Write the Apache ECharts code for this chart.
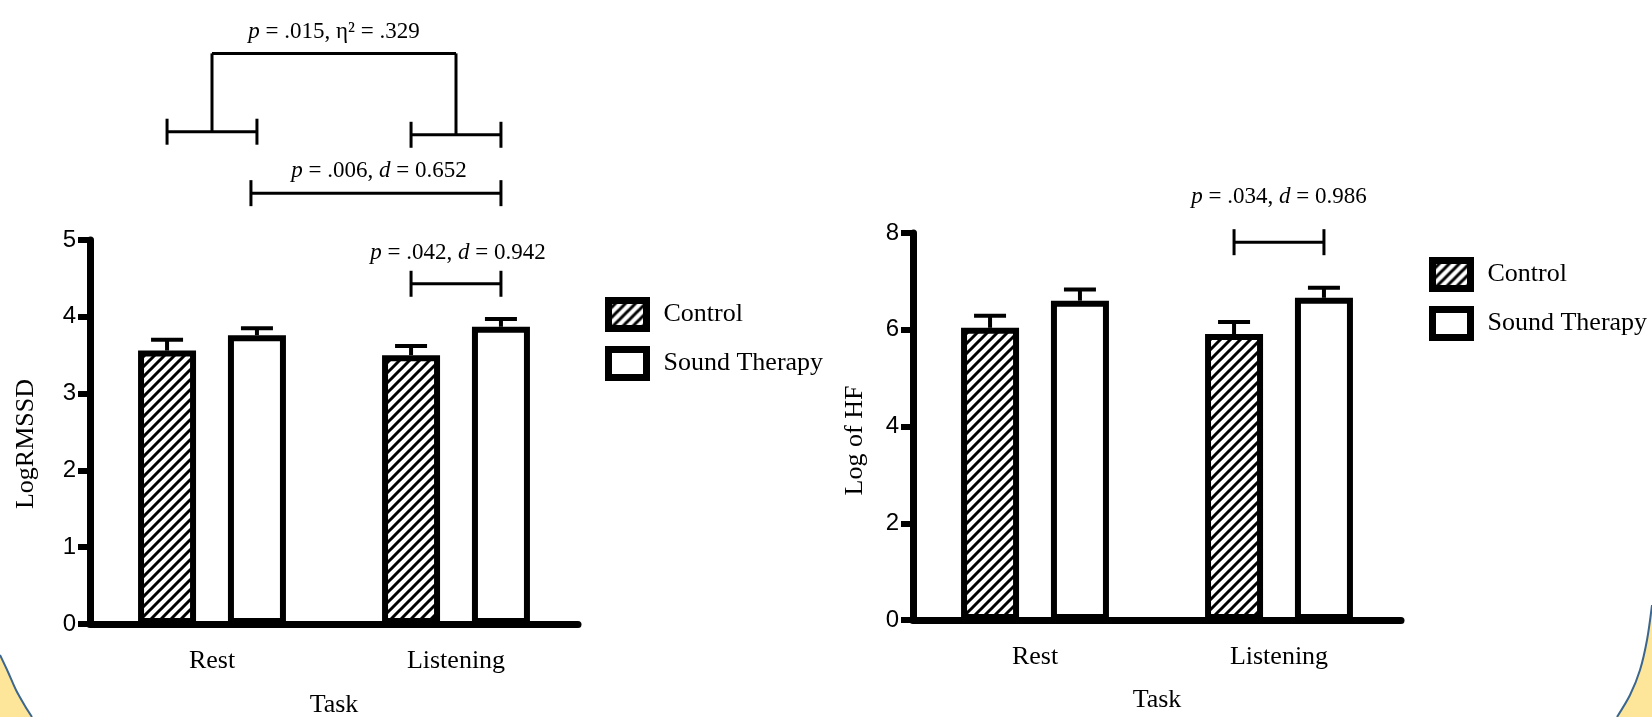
<!DOCTYPE html>
<html>
<head>
<meta charset="utf-8">
<script src="https://cdn.jsdelivr.net/npm/echarts@6/dist/echarts.min.js"></script>
<style>
  html, body { margin: 0; padding: 0; background: #fff; }
  #app { width: 1652px; height: 717px; }
</style>
</head>
<body>
<div id="app"></div>
<script>
// values
const categories = ['Rest', 'Listening'];
const groups = ['Control', 'Sound Therapy'];

const rmssdControl = [3.56, 3.50];
const rmssdControlSE = [0.14, 0.12];
const rmssdSound = [3.76, 3.87];
const rmssdSoundSE = [0.09, 0.10];

const hfControl = [6.04, 5.91];
const hfControlSE = [0.25, 0.25];
const hfSound = [6.60, 6.66];
const hfSoundSE = [0.23, 0.21];

const rmssdTicks = { min: 0, max: 5, interval: 1 };
const hfTicks = { min: 0, max: 8, interval: 2 };

const statLabels = [
  'p = .042, d = 0.942',
  'p = .006, d = 0.652',
  'p = .015, η² = .329',
  'p = .034, d = 0.986'
];

const serif = 'Liberation Serif';
const barW = 58;
const slotSpacing = barW * 1.55;

// diagonal hatch used for Control
function hatch() {
  const c = document.createElement('canvas');
  c.width = c.height = 10;
  const g = c.getContext('2d');
  g.fillStyle = '#fff';
  g.fillRect(0, 0, 10, 10);
  g.strokeStyle = '#000';
  g.lineWidth = 3;
  g.beginPath();
  g.moveTo(-2, 12); g.lineTo(12, -2);
  g.moveTo(-2, 2); g.lineTo(2, -2);
  g.moveTo(8, 12); g.lineTo(12, 8);
  g.stroke();
  return { image: c, repeat: 'repeat' };
}
const hatchFill = hatch();

function richify(s) {
  return s.replace(/\b([pd])\b/g, '{i|$1}');
}

function errData(ctrl, ctrlSE, snd, sndSE) {
  const out = [];
  for (let i = 0; i < categories.length; i++) {
    out.push([i, 0, ctrl[i], ctrlSE[i]]);
    out.push([i, 1, snd[i], sndSE[i]]);
  }
  return out;
}

function errorRender(params, api) {
  const base = api.coord([api.value(0), api.value(2)]);
  const top = api.coord([api.value(0), api.value(2) + api.value(3)]);
  const x = base[0] + (api.value(1) - 0.5) * slotSpacing;
  const st = { stroke: '#000', lineWidth: 4 };
  return {
    type: 'group',
    children: [
      { type: 'line', shape: { x1: x, y1: base[1], x2: x, y2: top[1] }, style: st },
      { type: 'line', shape: { x1: x - 16, y1: top[1], x2: x + 16, y2: top[1] }, style: st }
    ]
  };
}

function line(x1, y1, x2, y2) {
  return { type: 'line', shape: { x1, y1, x2, y2 }, style: { stroke: '#000', lineWidth: 3 } };
}
function bracket(xa, xb, y) {
  return [line(xa, y, xb, y), line(xa, y - 13, xa, y + 13), line(xb, y - 13, xb, y + 13)];
}
function label(txt, x, y) {
  return {
    type: 'text',
    style: {
      x, y, text: richify(txt), align: 'center', verticalAlign: 'middle',
      fontSize: 23, fontFamily: serif, fill: '#000',
      rich: { i: { fontStyle: 'italic', fontSize: 23, fontFamily: serif } }
    }
  };
}

function leftNotes(params, api) {
  const sx = (c, s) => api.coord([c, 0])[0] + (s - 0.5) * slotSpacing;
  const sy = v => api.coord([0, v])[1];
  let ch = [];
  // listening: control vs sound therapy
  const yA = sy(4.43);
  ch = ch.concat(bracket(sx(1, 0), sx(1, 1), yA));
  ch.push(label(statLabels[0], (sx(1, 0) + sx(1, 1)) / 2 + 2, yA - 31));
  // sound therapy: rest vs listening
  const yB = sy(5.61);
  ch = ch.concat(bracket(sx(0, 1) - 6, sx(1, 1), yB));
  ch.push(label(statLabels[1], (sx(0, 1) + sx(1, 1)) / 2, yB - 22));
  // interaction
  const yL = sy(6.41), yR = sy(6.37), yT = sy(7.43);
  ch = ch.concat(bracket(sx(0, 0), sx(0, 1), yL));
  ch = ch.concat(bracket(sx(1, 0), sx(1, 1), yR));
  const mL = (sx(0, 0) + sx(0, 1)) / 2, mR = (sx(1, 0) + sx(1, 1)) / 2;
  ch.push(line(mL, yL, mL, yT), line(mL, yT, mR, yT), line(mR, yT, mR, yR));
  ch.push(label(statLabels[2], (mL + mR) / 2, yT - 21));
  return { type: 'group', children: ch };
}

function rightNotes(params, api) {
  const sx = (c, s) => api.coord([c, 0])[0] + (s - 0.5) * slotSpacing;
  const y = api.coord([0, 7.81])[1];
  const ch = bracket(sx(1, 0), sx(1, 1), y);
  ch.push(label(statLabels[3], (sx(1, 0) + sx(1, 1)) / 2, y - 45));
  return { type: 'group', children: ch };
}

function xAxisCfg(gridIndex, margin, nameGap) {
  return {
    type: 'category', gridIndex, data: categories,
    name: 'Task', nameLocation: 'middle', nameGap,
    nameTextStyle: { fontFamily: serif, fontSize: 26, color: '#000' },
    axisLine: { lineStyle: { color: '#000', width: 7 } },
    axisTick: { alignWithLabel: true, length: 12, lineStyle: { color: '#000', width: 5 } },
    axisLabel: { fontFamily: serif, fontSize: 26, color: '#000', margin },
    splitLine: { show: false }
  };
}
function yAxisCfg(gridIndex, ticks, name, nameGap, pad) {
  return {
    type: 'value', gridIndex, min: ticks.min, max: ticks.max, interval: ticks.interval,
    name, nameLocation: 'middle', nameGap,
    nameTextStyle: { fontFamily: serif, fontSize: 26, color: '#000', padding: [0, pad, 0, 0] },
    axisLine: { show: true, lineStyle: { color: '#000', width: 7 } },
    axisTick: { show: true, length: 12, lineStyle: { color: '#000', width: 6 } },
    axisLabel: { fontFamily: 'Liberation Sans', fontSize: 24, color: '#000', margin: 14 },
    splitLine: { show: false }
  };
}

function barSeries(name, data, ai, fill) {
  return {
    name, type: 'bar', xAxisIndex: ai, yAxisIndex: ai, data,
    barWidth: barW, barGap: '55%',
    itemStyle: { color: fill, borderColor: '#000', borderWidth: 6 },
    emphasis: { disabled: true }, z: 2
  };
}

function legendCfg(left, top) {
  return {
    data: groups, orient: 'vertical', left, top, icon: 'rect',
    itemWidth: 38, itemHeight: 28, itemGap: 14,
    itemStyle: { borderColor: '#000', borderWidth: 7 },
    textStyle: { fontFamily: serif, fontSize: 26, color: '#000', padding: [0, 0, 0, 12] },
    selectedMode: false
  };
}

const chart = echarts.init(document.getElementById('app'), null, { renderer: 'canvas' });

const leftArc = [[0, 655], [8, 672], [16, 690], [25, 706], [32, 717]];
const rightArc = [[1652, 605], [1647, 640], [1640, 670], [1630, 695], [1617, 717]];

const option = {
  animation: false,
  backgroundColor: '#fff',
  graphic: [
    { type: 'polygon', z: -10, shape: { points: leftArc.concat([[0, 717]]) }, style: { fill: '#fde699' } },
    { type: 'polyline', z: -9, shape: { points: leftArc, smooth: 0.3 }, style: { stroke: '#3b6690', lineWidth: 2, fill: null } },
    { type: 'polygon', z: -10, shape: { points: rightArc.concat([[1652, 717]]) }, style: { fill: '#fde699' } },
    { type: 'polyline', z: -9, shape: { points: rightArc, smooth: 0.3 }, style: { stroke: '#3b6690', lineWidth: 2, fill: null } }
  ],
  legend: [legendCfg(600, 292), legendCfg(1424, 252)],
  grid: [
    { left: 90, top: 240, width: 488, height: 384, outerBoundsMode: 'none', containLabel: false },
    { left: 913, top: 233, width: 488, height: 387, outerBoundsMode: 'none', containLabel: false }
  ],
  xAxis: [xAxisCfg(0, 24, 68), xAxisCfg(1, 24, 67)],
  yAxis: [
    yAxisCfg(0, rmssdTicks, 'LogRMSSD', 51, 24),
    yAxisCfg(1, hfTicks, 'Log of HF', 45, 28)
  ],
  series: [
    barSeries(groups[0], rmssdControl, 0, hatchFill),
    barSeries(groups[1], rmssdSound, 0, '#fff'),
    barSeries(groups[0], hfControl, 1, hatchFill),
    barSeries(groups[1], hfSound, 1, '#fff'),
    {
      type: 'custom', xAxisIndex: 0, yAxisIndex: 0, z: 3, silent: true,
      data: errData(rmssdControl, rmssdControlSE, rmssdSound, rmssdSoundSE),
      encode: { x: 0, y: 2 }, renderItem: errorRender
    },
    {
      type: 'custom', xAxisIndex: 1, yAxisIndex: 1, z: 3, silent: true,
      data: errData(hfControl, hfControlSE, hfSound, hfSoundSE),
      encode: { x: 0, y: 2 }, renderItem: errorRender
    },
    {
      type: 'custom', xAxisIndex: 0, yAxisIndex: 0, z: 3, silent: true, clip: false,
      data: [[0, 0]], renderItem: leftNotes
    },
    {
      type: 'custom', xAxisIndex: 1, yAxisIndex: 1, z: 3, silent: true, clip: false,
      data: [[0, 0]], renderItem: rightNotes
    }
  ]
};

chart.setOption(option);
</script>
</body>
</html>
